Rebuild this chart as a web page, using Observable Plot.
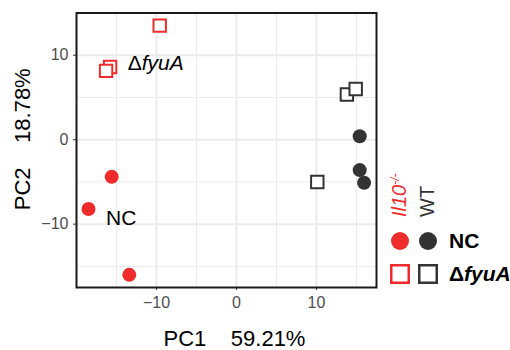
<!DOCTYPE html>
<html><head><meta charset="utf-8">
<script src="https://cdn.jsdelivr.net/npm/d3@7"></script>
<script src="https://cdn.jsdelivr.net/npm/@observablehq/plot@0.6"></script>
<style>
body{margin:0;background:#fff;}
#wrap{position:relative;width:510px;height:350px;overflow:hidden;}
#wrap svg{position:absolute;left:0;top:0;}
</style></head><body><div id="wrap"></div>
<script>
// ---- data ----
const groups  = ["Il10","Il10","Il10","Il10","Il10","Il10","WT","WT","WT","WT","WT","WT"];
const strains = ["NC","NC","NC","ΔfyuA","ΔfyuA","ΔfyuA","NC","NC","NC","ΔfyuA","ΔfyuA","ΔfyuA"];
const pc1 = [-15.6, -18.5, -13.4, -9.6, -15.8, -16.3, 15.4, 15.4, 15.95, 13.8, 14.9, 10.1];
const pc2 = [-4.4, -8.2, -16.0, 13.5, 8.6, 8.15, 0.4, -3.6, -5.1, 5.35, 6.0, -5.0];

const xTicks = [-10, 0, 10];
const xMinor = [-15, -5, 5, 15];
const yTicks = [-10, 0, 10];
const yMinor = [-15, -5, 5];

const labelText = ["ΔfyuA", "NC"];
const labelX = [-13.6, -16.3];
const labelY = [9.0, -9.3];

const groupNames = ["Il10", "WT"];
const groupColors = ["#EE2C2C", "#333333"];
const strainNames = ["NC", "ΔfyuA"];

const xTitle = "PC1\u00a0\u00a0\u00a0\u00a059.21%";
const yTitle = "PC2\u00a0\u00a0\u00a0\u00a018.78%";

// ---- build ----
const colorOf = g => groupColors[groupNames.indexOf(g)];
const pts = pc1.map((x, i) => ({x, y: pc2[i], group: groups[i], strain: strains[i]}));
const labels = labelText.map((t, i) => ({t, x: labelX[i], y: labelY[i]}));
const FONT = "Liberation Sans, Arial, Helvetica, sans-serif";

const plot = Plot.plot({
  width: 510, height: 350,
  marginLeft: 76, marginRight: 134, marginTop: 12.5, marginBottom: 63,
  style: {fontFamily: FONT, fontSize: "16px", background: "white", overflow: "visible"},
  x: {domain: [-20, 17.5]},
  y: {domain: [-17.5, 15]},
  color: {type: "identity"},
  marks: [
    Plot.gridX(xMinor, {stroke: "#ebebeb", strokeOpacity: 1, strokeWidth: 1}),
    Plot.gridY(yMinor, {stroke: "#ebebeb", strokeOpacity: 1, strokeWidth: 1}),
    Plot.gridX(xTicks, {stroke: "#ebebeb", strokeOpacity: 1, strokeWidth: 2}),
    Plot.gridY(yTicks, {stroke: "#ebebeb", strokeOpacity: 1, strokeWidth: 2}),
    Plot.axisX(xTicks, {tickSize: 3, tickPadding: 6, fontSize: 16, stroke: "#333", fill: "#4d4d4d", tickFormat: d3.format("d"), label: null}),
    Plot.axisY(yTicks, {tickSize: 3, tickPadding: 5, fontSize: 16, stroke: "#333", fill: "#4d4d4d", tickFormat: d3.format("d"), label: null}),
    Plot.dot(pts.filter(d => d.strain === "NC"), {x: "x", y: "y", r: 7, fill: d => colorOf(d.group), stroke: "none"}),
    Plot.dot(pts.filter(d => d.strain !== "NC"), {x: "x", y: "y", r: 7, symbol: "square", fill: "white", stroke: d => colorOf(d.group), strokeWidth: 2}),
    Plot.text(labels, {x: "x", y: "y", text: "t", textAnchor: "start", lineAnchor: "middle", fontSize: 21, fill: "black"}),
    Plot.text([xTitle], {text: d => d, frameAnchor: "bottom", textAnchor: "middle", lineAnchor: "middle", dx: 8, dy: 51.5, fontSize: 22, fill: "black"}),
    Plot.text([yTitle], {text: d => d, frameAnchor: "left", textAnchor: "middle", lineAnchor: "middle", rotate: -90, dx: -54, dy: -11, fontSize: 22, fill: "black"}),
    Plot.frame({stroke: "#1a1a1a", strokeWidth: 2})
  ]
});

d3.select(plot).selectAll("text").each(function () {
  if (this.textContent === "ΔfyuA") {
    const t = d3.select(this);
    t.text(null);
    t.append("tspan").text("Δ");
    t.append("tspan").attr("font-style", "italic").text("fyuA");
  }
});

document.getElementById("wrap").appendChild(plot);

// ---- legend ----
const leg = d3.select("#wrap").append("svg")
  .attr("width", 510).attr("height", 350)
  .style("font-family", FONT);

const colX = [399, 427];
const rowY = [241, 274];

groupNames.forEach((g, i) => {
  const t = leg.append("text")
    .attr("transform", `translate(${colX[i]},217) rotate(-90)`)
    .attr("dy", "0.35em")
    .attr("font-size", 20)
    .attr("fill", groupColors[i]);
  if (g === "Il10") {
    t.attr("font-style", "italic");
    t.append("tspan").text("Il10");
    t.append("tspan").attr("baseline-shift", "super").attr("font-size", 12).text("-/-");
  } else {
    t.text(g);
  }
});

strainNames.forEach((s, j) => {
  groupNames.forEach((g, i) => {
    if (s === "NC") {
      leg.append("circle").attr("cx", colX[i] + 1).attr("cy", rowY[j]).attr("r", 9).attr("fill", groupColors[i]);
    } else {
      leg.append("rect").attr("x", colX[i] + 1 - 8.75).attr("y", rowY[j] - 8.75)
        .attr("width", 17.5).attr("height", 17.5)
        .attr("fill", "white").attr("stroke", groupColors[i]).attr("stroke-width", 2.5);
    }
  });
  const t = leg.append("text").attr("x", 449).attr("y", rowY[j]).attr("dy", "0.35em")
    .attr("font-size", 21).attr("font-weight", "bold").attr("fill", "black");
  if (s === "ΔfyuA") {
    t.append("tspan").text("Δ");
    t.append("tspan").attr("font-style", "italic").text("fyuA");
  } else {
    t.text(s);
  }
});
</script></body></html>
